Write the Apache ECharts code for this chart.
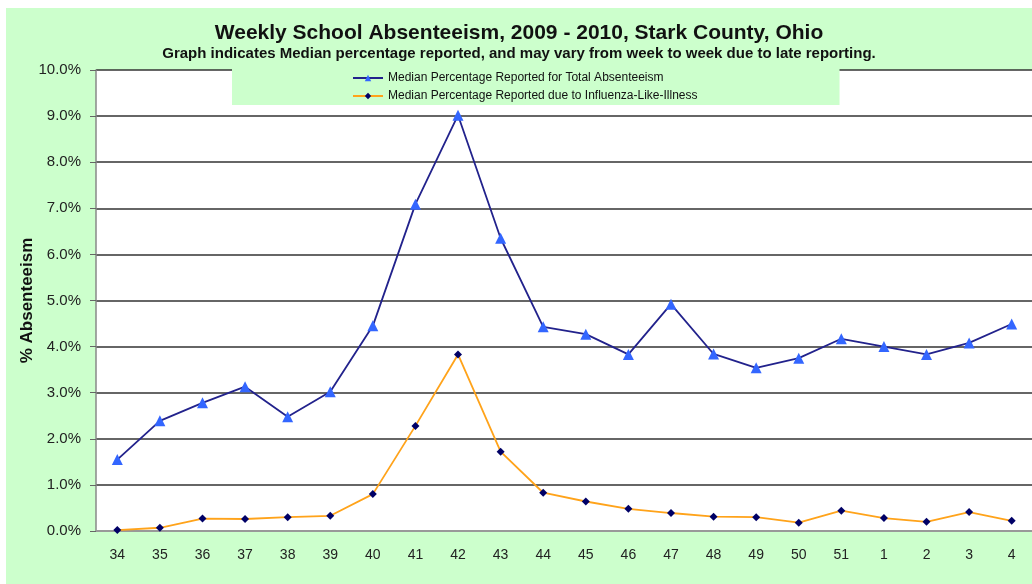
<!DOCTYPE html>
<html>
<head>
<meta charset="utf-8">
<script src="https://cdn.jsdelivr.net/npm/echarts@6/dist/echarts.min.js"></script>
<style>
  html, body { margin: 0; padding: 0; background: #ffffff; }
  #chart { position: absolute; left: 6px; top: 8px; width: 1026px; height: 576px; }
</style>
</head>
<body>
<div id="chart"></div>
<script>
// week numbers, school year 2009 - 2010
var weeks = ['34', '35', '36', '37', '38', '39', '40', '41', '42', '43', '44',
             '45', '46', '47', '48', '49', '50', '51', '1', '2', '3', '4'];
// median % reported, total absenteeism
var totalAbs = [1.55, 2.39, 2.78, 3.13, 2.48, 3.02, 4.45, 7.09, 9.02, 6.35, 4.43,
                4.27, 3.83, 4.92, 3.84, 3.54, 3.75, 4.17, 4.00, 3.83, 4.08, 4.49];
// median % reported due to influenza-like-illness
var iliAbs = [0.02, 0.07, 0.27, 0.26, 0.30, 0.33, 0.80, 2.28, 3.83, 1.72, 0.83,
              0.64, 0.48, 0.39, 0.31, 0.30, 0.18, 0.44, 0.28, 0.20, 0.41, 0.22];
var yTicks = [0, 1, 2, 3, 4, 5, 6, 7, 8, 9, 10];

var myChart = echarts.init(document.getElementById('chart'));

option = {
    backgroundColor: '#ccffcc',
    animation: false,
    title: [
        {
            text: 'Weekly School Absenteeism, 2009 - 2010, Stark County, Ohio',
            left: 'center',
            top: 10,
            textStyle: {
                fontFamily: 'Liberation Sans',
                fontSize: 21,
                fontWeight: 'bold',
                color: '#111'
            }
        },
        {
            text: 'Graph indicates Median percentage reported, and may vary from week to week due to late reporting.',
            left: 'center',
            top: 33,
            textStyle: {
                fontFamily: 'Liberation Sans',
                fontSize: 15,
                fontWeight: 'bold',
                color: '#111'
            }
        }
    ],
    legend: {
        orient: 'vertical',
        left: 226,
        top: 60,
        backgroundColor: '#ccffcc',
        padding: [4, 142, 3, 120],
        itemWidth: 30,
        itemHeight: 8,
        itemGap: 6,
        textStyle: {
            fontFamily: 'Liberation Sans',
            fontSize: 12,
            color: '#111'
        },
        data: [
            'Median Percentage Reported for Total Absenteeism',
            'Median Percentage Reported due to Influenza-Like-Illness'
        ]
    },
    grid: {
        left: 90,
        right: -1,
        top: 62,
        bottom: 53,
        outerBoundsMode: 'none',
        show: true,
        backgroundColor: '#ffffff',
        borderWidth: 0
    },
    xAxis: {
        type: 'category',
        data: weeks,
        boundaryGap: true,
        axisLine: { lineStyle: { color: '#999', width: 2 } },
        axisTick: { alignWithLabel: false, length: 4, lineStyle: { color: '#888' } },
        axisLabel: {
            margin: 17,
            fontFamily: 'Liberation Sans',
            fontSize: 14,
            color: '#222'
        }
    },
    yAxis: {
        type: 'value',
        min: yTicks[0],
        max: yTicks[yTicks.length - 1],
        interval: 1,
        name: '% Absenteeism',
        nameLocation: 'middle',
        nameGap: 60,
        nameMoveOverlap: false,
        nameTextStyle: {
            fontFamily: 'Liberation Sans',
            fontSize: 17,
            fontWeight: 'bold',
            color: '#111'
        },
        axisLine: { show: true, lineStyle: { color: '#888', width: 1.5 } },
        axisTick: { show: true, length: 6, lineStyle: { color: '#666' } },
        axisLabel: {
            margin: 15,
            fontFamily: 'Liberation Sans',
            fontSize: 15,
            color: '#222',
            formatter: function (v) { return v.toFixed(1) + '%'; }
        },
        splitLine: { lineStyle: { color: '#333', width: 1.5 } }
    },
    series: [
        {
            name: 'Median Percentage Reported for Total Absenteeism',
            type: 'line',
            data: totalAbs,
            symbol: 'triangle',
            symbolSize: 11,
            lineStyle: { color: '#22228c', width: 1.8 },
            itemStyle: { color: '#3366ff', borderWidth: 0 }
        },
        {
            name: 'Median Percentage Reported due to Influenza-Like-Illness',
            type: 'line',
            data: iliAbs,
            symbol: 'diamond',
            symbolSize: 8,
            lineStyle: { color: '#ffa31a', width: 1.8 },
            itemStyle: { color: '#000066', borderWidth: 0 }
        }
    ]
};

myChart.setOption(option);
</script>
</body>
</html>
